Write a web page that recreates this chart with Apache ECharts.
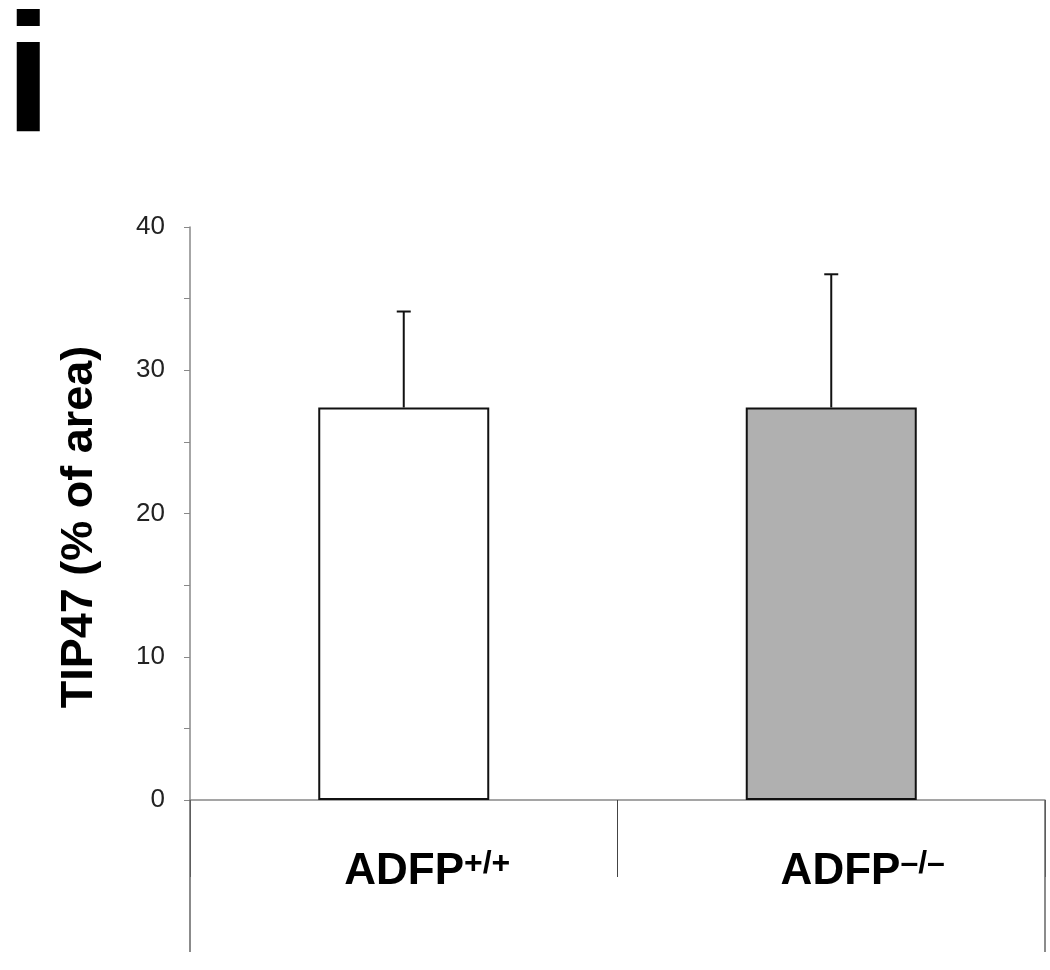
<!DOCTYPE html>
<html>
<head>
<meta charset="utf-8">
<script src="https://cdn.jsdelivr.net/npm/echarts@6/dist/echarts.min.js"></script>
<style>
  html, body { margin: 0; padding: 0; background: #fff; }
  #chart { width: 1050px; height: 970px; }
</style>
</head>
<body>
<div id="chart"></div>
<script>
const baseLabels = ['ADFP', 'ADFP']
const supLabels = ['+/+', '–/–']
const categories = baseLabels.map((b, i) => b + supLabels[i])
const meanValues = [27.4, 27.4]
const errorValues = [6.7, 9.3]
const barColors = ['#ffffff', '#b0b0b0']
const yMin = 0
const yMax = 40
const yStep = 5

const FONT = '"Liberation Sans", Arial, sans-serif'
const chart = echarts.init(document.getElementById('chart'))

// 誤差線：只畫上方
function renderError(params, api) {
  const x = api.value(0)
  const mean = api.value(1)
  const err = api.value(2)
  const p0 = api.coord([x, mean])
  const p1 = api.coord([x, mean + err])
  const style = { stroke: '#111', lineWidth: 2 }
  return {
    type: 'group',
    children: [
      { type: 'line', shape: { x1: p0[0], y1: p0[1], x2: p1[0], y2: p1[1] }, style },
      { type: 'line', shape: { x1: p1[0] - 7, y1: p1[1], x2: p1[0] + 7, y2: p1[1] }, style },
    ],
  }
}

chart.setOption({
  animation: false,
  backgroundColor: '#fff',
  grid: { left: 190, right: 5, top: 227, bottom: 170 },
  graphic: [
    {
      type: 'text',
      x: 5,
      y: 2,
      style: { text: 'i', font: 'bold 168px ' + FONT, fill: '#000', verticalAlign: 'top' },
    },
    {
      type: 'text',
      x: 80,
      y: 527,
      rotation: Math.PI / 2,
      style: {
        text: 'TIP47 (% of area)',
        font: 'bold 45px ' + FONT,
        fill: '#000',
        align: 'center',
        verticalAlign: 'middle',
      },
    },
  ],
  xAxis: [
    {
      type: 'category',
      data: categories,
      position: 'bottom',
      axisLine: { lineStyle: { color: '#888', width: 1.5 } },
      axisTick: { show: true, length: 77, lineStyle: { color: '#444', width: 1 } },
      axisLabel: {
        margin: 47,
        formatter: (v, i) => `{s${i}|}{b|${baseLabels[i]}}{sup|${supLabels[i]}}`,
        rich: {
          s0: { width: 47 },
          s1: { width: 63 },
          b: { fontSize: 44, fontWeight: 'bold', fontFamily: FONT, color: '#000', lineHeight: 50 },
          sup: {
            fontSize: 32,
            fontWeight: 'bold',
            fontFamily: FONT,
            color: '#000',
            lineHeight: 32,
            verticalAlign: 'top',
            padding: [1, 0, 0, 0],
          },
        },
      },
    },
    {
      type: 'category',
      data: [''],
      position: 'bottom',
      axisLine: { show: false },
      axisTick: { show: true, length: 152, lineStyle: { color: '#666', width: 1.5 } },
      axisLabel: { show: false },
    },
  ],
  yAxis: {
    type: 'value',
    min: yMin,
    max: yMax,
    interval: yStep,
    axisLine: { show: true, lineStyle: { color: '#888', width: 1.5 } },
    axisTick: { show: true, length: 6, lineStyle: { color: '#888' } },
    splitLine: { show: false },
    axisLabel: {
      margin: 25,
      fontSize: 26,
      fontFamily: FONT,
      color: '#222',
      formatter: (v) => (v % 10 === 0 ? String(v) : ''),
    },
  },
  series: [
    {
      type: 'bar',
      barWidth: '40%',
      data: meanValues.map((v, i) => ({
        value: v,
        itemStyle: { color: barColors[i], borderColor: '#111', borderWidth: 2 },
      })),
      z: 2,
    },
    {
      type: 'custom',
      renderItem: renderError,
      data: meanValues.map((v, i) => [i, v, errorValues[i]]),
      z: 3,
    },
  ],
})
</script>
</body>
</html>
